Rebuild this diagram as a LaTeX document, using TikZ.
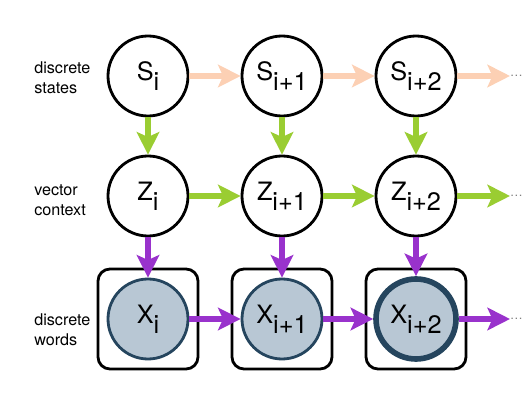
\documentclass[tikz,border=0pt]{standalone}
\usepackage{fontspec}
\setmainfont{TeX Gyre Heros}
\usepackage{tikz}
\usetikzlibrary{arrows.meta}
\definecolor{peach}{RGB}{252,208,180}
\definecolor{leafgreen}{RGB}{154,205,50}
\definecolor{orchid}{RGB}{153,50,204}
\definecolor{wordfill}{RGB}{184,199,212}
\definecolor{wordedge}{RGB}{37,69,94}
\tikzset{
  %---------------------------------------%
  %            Variable circles           %
  %---------------------------------------%
  % Circle for the hidden variables
  node_hidden/.style={
    circle,
    draw=black,
    line width=2pt,
    fill=white,
    inner sep=0pt,
    minimum size=2cm,
    font=\fontsize{18}{20}\selectfont
  },
  % Circle for the observed words
  node_word/.style={
    circle,
    draw=wordedge,
    line width=2pt,
    fill=wordfill,
    inner sep=0pt,
    minimum size=2cm,
    font=\fontsize{18}{20}\selectfont
  },
  % Box round each observed word
  box_word/.style={
    rectangle,
    rounded corners=0.3cm,
    draw=black,
    line width=2pt,
    minimum size=2.5cm
  },
  % Row labels on the left
  row_label/.style={
    align=left,
    anchor=west,
    inner sep=0pt,
    font=\fontsize{11.5}{14}\selectfont
  },
  % Trailing dots
  trail/.style={
    anchor=west,
    inner sep=0pt,
    outer sep=0pt,
    text=gray,
    font=\fontsize{9}{10}\selectfont
  },
  %----------------%
  %     Arrows     %
  %----------------%
  arrow/.style={draw,line width=3.8pt,-{Stealth[length=16pt,width=16pt,inset=3.5pt]}},
  arrow_state/.style={arrow,draw=peach,fill=peach},
  arrow_context/.style={arrow,draw=leafgreen,fill=leafgreen},
  arrow_word/.style={arrow,draw=orchid,fill=orchid},
}
\newcommand{\varsub}[2]{%
  % Index set lowered, at full size
  {#1\raisebox{-7pt}{#2}}
}

\begin{document}
\begin{tikzpicture}
    \useasboundingbox (0, 0) rectangle (13.3, 10.1);

    %------------------%
    %    Row labels    %
    %------------------%
    \node (lab_s) [row_label] at (0.85, 8.15) {discrete\\states};
    \node (lab_z) [row_label] at (0.85, 5.1) {vector\\context};
    \node (lab_x) [row_label] at (0.85, 1.85) {discrete\\words};

    %-------------------%
    %  Discrete states  %
    %-------------------%
    \node (s1) [node_hidden] at (3.7, 8.2) {\varsub{S}{i}};
    \node (s2) [node_hidden] at (7.05, 8.2) {\varsub{S}{i+1}};
    \node (s3) [node_hidden] at (10.4, 8.2) {\varsub{S}{i+2}};
    \node (s_end) [trail] at (12.75, 8.2) {\dots};

    %------------------%
    %  Vector context  %
    %------------------%
    \node (z1) [node_hidden] at (3.7, 5.2) {\varsub{Z}{i}};
    \node (z2) [node_hidden] at (7.05, 5.2) {\varsub{Z}{i+1}};
    \node (z3) [node_hidden] at (10.4, 5.2) {\varsub{Z}{i+2}};
    \node (z_end) [trail] at (12.75, 5.2) {\dots};

    %------------------%
    %  Discrete words  %
    %------------------%
    \node (bx1) [box_word] at (3.7, 2.125) {};
    \node (bx2) [box_word] at (7.05, 2.125) {};
    \node (bx3) [box_word] at (10.4, 2.125) {};
    \node (x1) [node_word] at (3.7, 2.125) {\varsub{X}{i}};
    \node (x2) [node_word] at (7.05, 2.125) {\varsub{X}{i+1}};
    \node (x3) [node_word, line width=4pt] at (10.4, 2.125) {\varsub{X}{i+2}};
    \node (x_end) [trail] at (12.75, 2.125) {\dots};

    %----------%
    %  Arrows  %
    %----------%
    % States --> next state
    \draw [arrow_state] (s1) -- (s2);
    \draw [arrow_state] (s2) -- (s3);
    \draw [arrow_state] (s3) -- (s_end);

    % States --> context
    \draw [arrow_context] (s1) -- (z1);
    \draw [arrow_context] (s2) -- (z2);
    \draw [arrow_context] (s3) -- (z3);
    % Context --> next context
    \draw [arrow_context] (z1) -- (z2);
    \draw [arrow_context] (z2) -- (z3);
    \draw [arrow_context] (z3) -- (z_end);

    % Context --> words
    \draw [arrow_word] (z1) -- (x1);
    \draw [arrow_word] (z2) -- (x2);
    \draw [arrow_word] (z3) -- (x3);
    % Words --> next word
    \draw [arrow_word] (x1) -- (x2);
    \draw [arrow_word] (x2) -- (x3);
    \draw [arrow_word] (x3) -- (x_end);
  \end{tikzpicture}
\end{document}
